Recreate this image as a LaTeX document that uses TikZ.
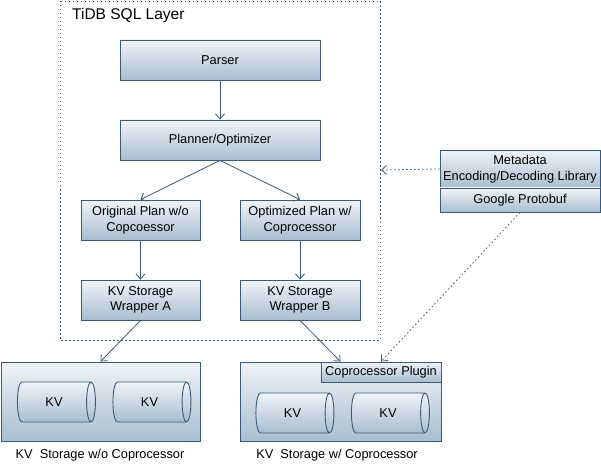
\documentclass[tikz,border=0pt]{standalone}
\usepackage{fontspec}
\setmainfont{Liberation Sans}
\usetikzlibrary{arrows.meta,shapes.geometric}
\definecolor{bordc}{HTML}{3A5A78}
\definecolor{topc}{HTML}{F0F3F9}
\definecolor{botc}{HTML}{A7BED0}
\tikzset{
  blk/.style={draw=bordc, line width=0.9pt, top color=topc, bottom color=botc,
    inner sep=0pt, align=center, font=\fontsize{12.8}{15.5}\selectfont},
  cyl/.style={blk, shape=cylinder, aspect=1.0, minimum width=40pt, minimum height=78pt},
  arr/.style={draw=bordc, line width=0.8pt, -{Straight Barb[length=5pt,width=9pt]}},
  darr/.style={arr, dash pattern=on 1.5pt off 2.5pt},
  lbl/.style={font=\fontsize{12.8}{15.5}\selectfont, inner sep=0pt}
}
\begin{document}
\begin{tikzpicture}[x=1pt,y=-1pt]
\useasboundingbox (0,0) rectangle (601,470);
% frame
\draw[bordc, line width=0.8pt, dash pattern=on 1.5pt off 2.5pt] (60,1) rectangle (380,340);
\coordinate (fr) at (381,170);
\node[lbl, anchor=base west, font=\fontsize{15.5}{18}\selectfont] (title) at (72,19.5) {TiDB SQL Layer};
% SQL layer blocks
\node[blk, minimum width=200pt, minimum height=40pt] (parser) at (220,60) {Parser};
\node[blk, minimum width=200pt, minimum height=40pt] (planner) at (220,140) {Planner/Optimizer};
\node[blk, minimum width=119pt, minimum height=40pt] (orig) at (140.5,220) {Original Plan w/o\\Copcoessor};
\node[blk, minimum width=120pt, minimum height=40pt] (opt) at (300,220) {Optimized Plan w/\\Coprocessor};
\node[blk, minimum width=119pt, minimum height=40pt] (wa) at (140.5,300) {KV Storage\\Wrapper A};
\node[blk, minimum width=120pt, minimum height=40pt] (wb) at (300,300) {KV Storage\\Wrapper B};
% metadata
\node[blk, minimum width=160pt, minimum height=38pt] (meta) at (520,169) {Metadata\\Encoding/Decoding Library};
\node[blk, minimum width=160pt, minimum height=24pt] (proto) at (520,200) {Google Protobuf};
% storage
\node[blk, minimum width=199pt, minimum height=79pt] (sl) at (100.5,401.5) {};
\node[blk, minimum width=201pt, minimum height=79pt] (sr) at (340.5,401.5) {};
\node[blk, minimum width=120pt, minimum height=20pt] (plugin) at (381,372) {Coprocessor Plugin};
\node[cyl] (c1) at (54,402) {KV};
\node[cyl] (c2) at (149.5,402) {KV};
\node[cyl] (c3) at (292.5,413) {KV};
\node[cyl] (c4) at (388,413) {KV};
\node[lbl] (ll) at (100,455) {KV\ \ Storage w/o Coprocessor};
\node[lbl] (lr) at (337,455) {KV\ \ Storage w/ Coprocessor};
% arrows
\draw[arr] (parser.south) -- (planner.north);
\draw[arr] (planner.south) -- (orig.north);
\draw[arr] (planner.south) -- (opt.north);
\draw[arr] (orig.south) -- (wa.north);
\draw[arr] (opt.south) -- (wb.north);
\draw[arr] (wa.south) -- (sl.north);
\draw[arr] (wb.south) -- (sr.north);
\draw[darr] (meta.west) -- (fr);
\draw[darr] (proto.south) -- (plugin.north);
\end{tikzpicture}
\end{document}
